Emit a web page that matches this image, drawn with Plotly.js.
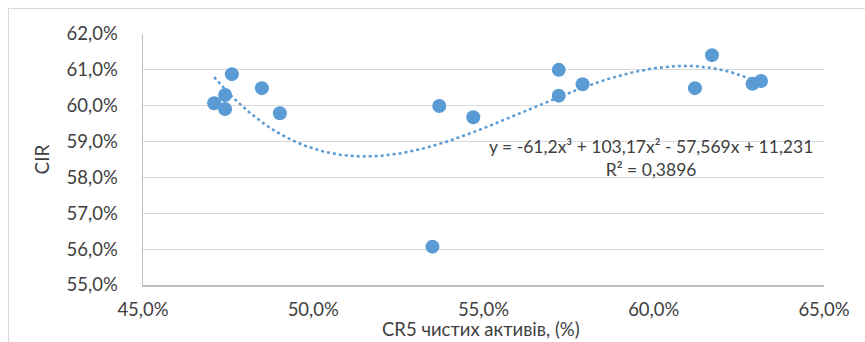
<!DOCTYPE html>
<html>
<head>
<meta charset="utf-8">
<script src="https://cdn.plot.ly/plotly-3.0.1.min.js"></script>
<style>
  html, body { margin: 0; padding: 0; background: #ffffff; }
  #frame { position: absolute; left: 8px; top: 8px; width: 900px; height: 400px; border: 1px solid #d9d9d9; box-sizing: border-box; }
  #chart { position: absolute; left: 0; top: 0; width: 865px; height: 342px; }
</style>
</head>
<body>
<div id="frame"></div>
<div id="chart"></div>
<script>
// CR5 net assets (fraction) and CIR (fraction)
const cr5 = [0.4709, 0.4741, 0.4741, 0.4761, 0.4849, 0.4902, 0.5370, 0.5470, 0.5721, 0.5721, 0.5791, 0.6121, 0.6171, 0.6290, 0.6315, 0.5350];
const cir = [0.6007, 0.6030, 0.5991, 0.6088, 0.6049, 0.5979, 0.5999, 0.5968, 0.6100, 0.6028, 0.6060, 0.6049, 0.6141, 0.6061, 0.6069, 0.5607];
const equationText = "y = -61,2x³ + 103,17x² - 57,569x + 11,231<br>R² = 0,3896";
const xTitle = "CR5 чистих активів, (%)";
const yTitle = "CIR";

// Polynomial (order 3) least-squares trendline, as the spreadsheet computes it
function polyfit(xs, ys, deg) {
  const n = deg + 1;
  const A = [];
  for (let i = 0; i < n; i++) {
    A.push(new Array(n + 1).fill(0));
  }
  for (let k = 0; k < xs.length; k++) {
    for (let i = 0; i < n; i++) {
      for (let j = 0; j < n; j++) A[i][j] += Math.pow(xs[k], i + j);
      A[i][n] += ys[k] * Math.pow(xs[k], i);
    }
  }
  for (let c = 0; c < n; c++) {
    let p = c;
    for (let r = c + 1; r < n; r++) if (Math.abs(A[r][c]) > Math.abs(A[p][c])) p = r;
    [A[c], A[p]] = [A[p], A[c]];
    for (let r = 0; r < n; r++) {
      if (r === c) continue;
      const f = A[r][c] / A[c][c];
      for (let j = c; j <= n; j++) A[r][j] -= f * A[c][j];
    }
  }
  return A.map((row, i) => row[n] / row[i]);
}
const coef = polyfit(cr5, cir, 3);
const xmin = Math.min(...cr5), xmax = Math.max(...cr5);
const tx = [], ty = [];
for (let i = 0; i <= 200; i++) {
  const x = xmin + (xmax - xmin) * i / 200;
  tx.push(x);
  ty.push(coef[0] + coef[1] * x + coef[2] * x * x + coef[3] * x * x * x);
}

const color = "#5b9bd5";
const font = "Lato, 'Open Sans', sans-serif";
const textColor = "#404040";

const data = [
  { x: tx, y: ty, type: "scatter", mode: "lines",
    line: { color: color, width: 2.5, dash: "dot" }, hoverinfo: "skip", showlegend: false },
  { x: cr5, y: cir, type: "scatter", mode: "markers",
    marker: { color: color, size: 14 }, showlegend: false }
];

const layout = {
  width: 865, height: 342,
  margin: { l: 143, r: 41, t: 34, b: 57 },
  paper_bgcolor: "rgba(0,0,0,0)",
  plot_bgcolor: "rgba(0,0,0,0)",
  separators: ", ",
  font: { family: font, size: 18, color: textColor },
  xaxis: {
    range: [0.45, 0.65], dtick: 0.05, tick0: 0.45, tickformat: ".1%",
    showgrid: false, zeroline: false,
    showline: true, linecolor: "#bfbfbf", linewidth: 1.5,
    ticks: "", ticklabelstandoff: 7,
    tickfont: { family: font, size: 18.5, color: textColor }
  },
  yaxis: {
    range: [0.55, 0.62], dtick: 0.01, tick0: 0.55, tickformat: ".1%",
    showgrid: true, gridcolor: "#d9d9d9", gridwidth: 1.2, zeroline: false,
    showline: true, linecolor: "#bfbfbf", linewidth: 1.5,
    ticks: "", ticklabelstandoff: 20,
    tickfont: { family: font, size: 18.5, color: textColor },
    title: { text: yTitle, font: { family: font, size: 19, color: textColor }, standoff: 12 }
  },
  annotations: [
    { text: equationText, xref: "paper", yref: "paper",
      x: (651 - 143) / 681, y: 1 - (134 - 34) / 251, xanchor: "center", yanchor: "top",
      showarrow: false, align: "center",
      font: { family: font, size: 17.5, color: textColor } },
    { text: xTitle, xref: "paper", yref: "paper",
      x: (481 - 143) / 681, y: -(329 - 285) / 251, xanchor: "center", yanchor: "middle",
      showarrow: false,
      font: { family: font, size: 18.5, color: textColor } }
  ]
};

Plotly.newPlot("chart", data, layout, { displayModeBar: false, staticPlot: true });
</script>
</body>
</html>
